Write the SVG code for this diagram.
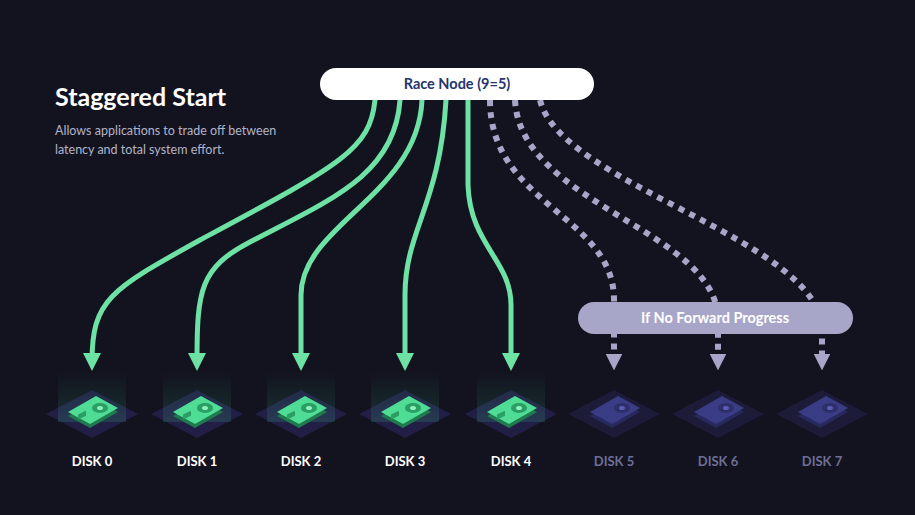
<svg xmlns="http://www.w3.org/2000/svg" width="915" height="515" viewBox="0 0 915 515">
<style>
.g{fill:none;stroke:#6ee2a4;stroke-width:5;stroke-linecap:round}
.d{fill:none;stroke:#a8a6c8;stroke-width:6;stroke-dasharray:6 6}
.lbl{font-family:"Lato","Liberation Sans",sans-serif;font-weight:bold;font-size:13px;text-anchor:middle}
.pill{font-family:"Lato","Liberation Sans",sans-serif;font-weight:bold;font-size:14.5px;text-anchor:middle}
</style>
<defs>
<marker id="ga" viewBox="0 0 10 10" refX="5" refY="5" markerWidth="3.6" markerHeight="3.6" orient="auto"><path d="M0,0 L10,5 L0,10 Z" fill="#6ee2a4"/></marker>
<marker id="da" viewBox="0 0 10 10" refX="5" refY="5" markerWidth="2.8" markerHeight="2.8" orient="auto"><path d="M0,0 L10,5 L0,10 Z" fill="#a8a6c8"/></marker>
<linearGradient id="glow" x1="0" y1="0" x2="0" y2="1"><stop offset="0" stop-color="#3ccf8a" stop-opacity="0"/><stop offset="1" stop-color="#3ccf8a" stop-opacity="0.16"/></linearGradient>
<g id="diskG">
<polygon points="-46,0 0,-24 46,0 0,24" fill="#221f46"/>
<rect x="-34" y="-42" width="68" height="50" fill="url(#glow)"/>
<polygon points="-24,2 4,-14 26,-2 -2,14" fill="#1f7a4e"/>
<polygon points="-24,-2 4,-18 26,-6 -2,10" fill="#4fdc94"/>
<ellipse cx="8" cy="-6" rx="8" ry="5" fill="#2a9e63"/>
<ellipse cx="8" cy="-6" rx="3" ry="2" fill="#8ff0bd"/>
<rect x="-14" y="-6" width="8" height="5" fill="#2a9e63" transform="skewY(-25)"/>
</g>
<g id="diskB">
<polygon points="-46,0 0,-24 46,0 0,24" fill="#1c1b38"/>
<polygon points="-24,2 4,-14 26,-2 -2,14" fill="#28295e"/>
<polygon points="-24,-2 4,-18 26,-6 -2,10" fill="#3a3c85"/>
<ellipse cx="8" cy="-6" rx="8" ry="5" fill="#2d2e6a"/>
<ellipse cx="8" cy="-6" rx="3" ry="2" fill="#5a5db0"/>
</g>
</defs>
<rect width="915" height="515" fill="#12131f"/>
<text x="55" y="106" font-family="Lato,'Liberation Sans',sans-serif" font-weight="bold" font-size="25" fill="#fff">Staggered Start</text>
<text font-family="Lato,'Liberation Sans',sans-serif" font-size="12.5" fill="#b4b4c8"><tspan x="55" y="135">Allows applications to trade off between</tspan><tspan x="55" y="154">latency and total system effort.</tspan></text>
<g id="connectors">
<path class="g" marker-end="url(#ga)" d="M375,100 C370,150 340,165 200,240 C110,290 92,300 92,362"/>
<path class="g" marker-end="url(#ga)" d="M400,100 C395,175 330,200 250,242 C200,268 197,290 197,362"/>
<path class="g" marker-end="url(#ga)" d="M422,100 C418,195 301,225 301,295 L301,362"/>
<path class="g" marker-end="url(#ga)" d="M446,100 C440,205 405,230 405,295 L405,362"/>
<path class="g" marker-end="url(#ga)" d="M468,100 L468,185 C470,245 511,260 511,305 L511,362"/>
<path class="d" marker-end="url(#da)" d="M490,100 C490,205 614,215 614,300 L614,362"/>
<path class="d" marker-end="url(#da)" d="M515,100 C520,205 718,230 718,320 L718,362"/>
<path class="d" marker-end="url(#da)" d="M540,100 C560,185 822,240 822,330 L822,362"/>
</g>
<g id="race"><rect x="320" y="68" width="274" height="32" rx="16" fill="#fff"/><text class="pill" x="457" y="89" fill="#25356b">Race Node (9=5)</text></g>
<g id="nfp"><rect x="578" y="302" width="275" height="32" rx="16" fill="#a8a6c8"/><text class="pill" x="715" y="323" fill="#fff">If No Forward Progress</text></g>
<g id="disk0"><use href="#diskG" x="92" y="414"/><text class="lbl" x="92" y="466" fill="#fff">DISK 0</text></g>
<g id="disk1"><use href="#diskG" x="197" y="414"/><text class="lbl" x="197" y="466" fill="#fff">DISK 1</text></g>
<g id="disk2"><use href="#diskG" x="301" y="414"/><text class="lbl" x="301" y="466" fill="#fff">DISK 2</text></g>
<g id="disk3"><use href="#diskG" x="405" y="414"/><text class="lbl" x="405" y="466" fill="#fff">DISK 3</text></g>
<g id="disk4"><use href="#diskG" x="511" y="414"/><text class="lbl" x="511" y="466" fill="#fff">DISK 4</text></g>
<g id="disk5"><use href="#diskB" x="614" y="414"/><text class="lbl" x="614" y="466" fill="#6e6e96">DISK 5</text></g>
<g id="disk6"><use href="#diskB" x="718" y="414"/><text class="lbl" x="718" y="466" fill="#6e6e96">DISK 6</text></g>
<g id="disk7"><use href="#diskB" x="822" y="414"/><text class="lbl" x="822" y="466" fill="#6e6e96">DISK 7</text></g>
</svg>
